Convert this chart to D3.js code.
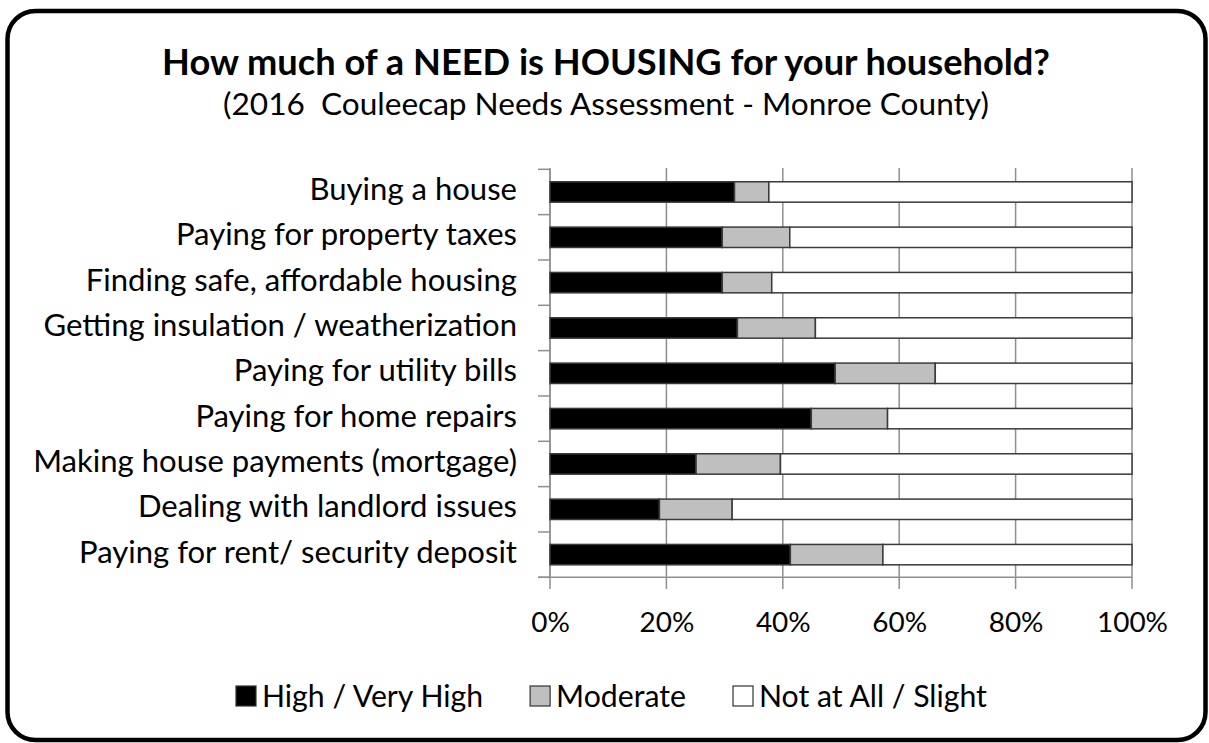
<!DOCTYPE html>
<html>
<head>
<meta charset="utf-8">
<script src="https://cdnjs.cloudflare.com/ajax/libs/d3/7.8.5/d3.min.js"></script>
<style>
  html, body { margin: 0; padding: 0; background: #fff; }
  svg { display: block; }
  text { font-family: Lato, "Open Sans", sans-serif; fill: #000; }
</style>
</head>
<body>
<svg id="chart" width="1209" height="743"></svg>
<script>
// Survey items, top to bottom
const categories = [
  "Buying a house",
  "Paying for property taxes",
  "Finding safe, affordable housing",
  "Getting insulation / weatherization",
  "Paying for utility bills",
  "Paying for home repairs",
  "Making house payments (mortgage)",
  "Dealing with landlord issues",
  "Paying for rent/ security deposit"
];
// Share of respondents (%) per need level
const highVeryHigh = [31.7, 29.6, 29.6, 32.2, 49.0, 44.9, 25.1, 18.8, 41.3];
const moderate     = [ 5.9, 11.6,  8.5, 13.4, 17.2, 13.1, 14.5, 12.5, 15.9];
const notAtAll     = [62.4, 58.8, 61.9, 54.4, 33.8, 42.0, 60.4, 68.7, 42.8];

const seriesNames = ["High / Very High", "Moderate", "Not at All / Slight"];
const seriesColors = ["#000000", "#bfbfbf", "#ffffff"];
const tickValues = [0, 20, 40, 60, 80, 100];

const titleText = "How much of a NEED is HOUSING for your household?";
const subtitleText = "(2016  Couleecap Needs Assessment - Monroe County)";

const svg = d3.select("#chart");

// Fit a font size so that a sample string reaches a given width
function fitSize(sample, targetWidth, weight) {
  const t = svg.append("text").attr("font-size", 100)
    .attr("font-weight", weight || "normal")
    .style("white-space", "pre")
    .text(sample);
  const w = t.node().getComputedTextLength();
  t.remove();
  return 100 * targetWidth / w;
}

const titleSize = fitSize(titleText, 888, "bold");
const subSize = fitSize(subtitleText, 766);
const tickSize = fitSize("100%", 71);
const legendSize = fitSize("Not at All / Slight", 228);
const catSize = fitSize("Making house payments (mortgage)", 484);

// Outer rounded frame
svg.append("rect")
  .attr("x", 7.5).attr("y", 11)
  .attr("width", 1198).attr("height", 729)
  .attr("rx", 28).attr("ry", 28)
  .attr("fill", "#fff").attr("stroke", "#000").attr("stroke-width", 4.5);

// Titles
svg.append("text")
  .attr("x", 606).attr("y", 75)
  .attr("text-anchor", "middle")
  .attr("font-weight", "bold")
  .attr("font-size", titleSize)
  .text(titleText);

svg.append("text")
  .attr("x", 606).attr("y", 115)
  .attr("text-anchor", "middle")
  .attr("font-size", subSize)
  .attr("fill", "#111")
  .style("white-space", "pre")
  .text(subtitleText);

// Scales
const x = d3.scaleLinear().domain([0, 100]).range([550, 1132]);
const y = d3.scaleBand().domain(categories).range([169.3, 577.3])
  .paddingInner(0.55).paddingOuter(0.275);

const gridColor = "#8f8f8f";

// Vertical gridlines
svg.append("g").selectAll("line")
  .data(tickValues)
  .join("line")
  .attr("x1", d => x(d)).attr("x2", d => x(d))
  .attr("y1", 168).attr("y2", 589)
  .attr("stroke", gridColor).attr("stroke-width", 1.5);

// Bottom axis line and labels
svg.append("line")
  .attr("x1", 538).attr("x2", x(100))
  .attr("y1", y.range()[1]).attr("y2", y.range()[1])
  .attr("stroke", gridColor).attr("stroke-width", 1.5);

const xAxis = d3.axisBottom(x).tickValues(tickValues).tickFormat(d => d + "%").tickSize(0).tickPadding(0);
const xg = svg.append("g").attr("transform", "translate(0,632)").call(xAxis);
xg.select(".domain").remove();
xg.selectAll("text")
  .attr("dy", 0).attr("y", 0)
  .attr("font-size", tickSize)
  .attr("font-family", "Lato, sans-serif")
  .attr("fill", "#222");

// Left axis line with ticks between categories
const step = y.step();
const boundaries = d3.range(categories.length + 1).map(i => y.range()[0] + i * step);
svg.append("line")
  .attr("x1", 550).attr("x2", 550)
  .attr("y1", y.range()[0]).attr("y2", y.range()[1])
  .attr("stroke", gridColor).attr("stroke-width", 1.5);
svg.append("g").selectAll("line")
  .data(boundaries)
  .join("line")
  .attr("x1", 538).attr("x2", 550)
  .attr("y1", d => d).attr("y2", d => d)
  .attr("stroke", gridColor).attr("stroke-width", 1.5);

// Category labels
svg.append("g").selectAll("text")
  .data(categories)
  .join("text")
  .attr("x", 517)
  .attr("y", d => y(d) + y.bandwidth() / 2 + 8)
  .attr("text-anchor", "end")
  .attr("font-size", catSize)
  .attr("fill", "#111")
  .text(d => d);

// Stacked bars
const rows = categories.map((c, i) => ({
  category: c,
  "High / Very High": highVeryHigh[i],
  "Moderate": moderate[i],
  "Not at All / Slight": notAtAll[i]
}));
const stacked = d3.stack().keys(seriesNames)(rows);

svg.append("g").selectAll("g")
  .data(stacked)
  .join("g")
  .attr("fill", (d, i) => seriesColors[i])
  .selectAll("rect")
  .data(d => d)
  .join("rect")
  .attr("x", d => x(d[0]))
  .attr("width", d => x(d[1]) - x(d[0]))
  .attr("y", d => y(d.data.category))
  .attr("height", y.bandwidth())
  .attr("stroke", "#3a3a3a")
  .attr("stroke-width", 1.5);

// Legend
const legend = svg.append("g");
let lx = 236;
seriesNames.forEach((name, i) => {
  legend.append("rect")
    .attr("x", lx).attr("y", 686)
    .attr("width", 20).attr("height", 20)
    .attr("fill", seriesColors[i])
    .attr("stroke", "#333").attr("stroke-width", 1.2);
  const t = legend.append("text")
    .attr("x", lx + 26).attr("y", 707)
    .attr("font-size", legendSize)
    .attr("fill", "#111")
    .text(name);
  lx += 26 + t.node().getComputedTextLength() + 47;
});
</script>
</body>
</html>
